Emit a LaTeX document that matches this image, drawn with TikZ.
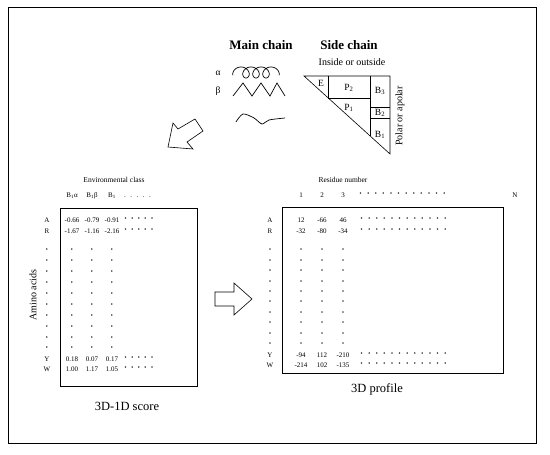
\documentclass[tikz,border=0pt]{standalone}
\usepackage{fontspec}
\setmainfont{Liberation Serif}
\usetikzlibrary{positioning}

\newcommand{\dotrun}[3]{\foreach \i in {1,...,#1}{#3\kern#2}}

\begin{document}
\begin{tikzpicture}[
    x=1pt, y=-1pt,
    heading/.style={font=\fontsize{13}{15}\selectfont\bfseries, inner sep=1pt},
    title/.style={font=\fontsize{12.5}{15}\selectfont, inner sep=1pt},
    caption/.style={font=\fontsize{10}{12}\selectfont, inner sep=1pt},
    tag/.style={font=\fontsize{9.5}{11}\selectfont, inner sep=0pt},
    smalltext/.style={font=\fontsize{7.5}{9}\selectfont, inner sep=1pt},
    cell/.style={font=\fontsize{7}{8}\selectfont, inner sep=0pt, text height=4.8pt, text depth=0pt},
    fill dot/.style={font=\fontsize{9}{9}\selectfont\bfseries, inner sep=0pt},
    panel/.style={draw=black, line width=0.8pt, anchor=north west, inner sep=0pt},
    hollow/.style={draw=black, line width=0.6pt, line join=miter},
    sector/.style={draw=black, line width=0.6pt},
    chain/.style={draw=black, line width=0.7pt}
]
    \useasboundingbox (0,0) rectangle (550,455);

    % --- Outer frame ---
    \draw[line width=1pt] (8,7) rectangle (536,443);

    % --- Main chain ---
    \node[heading] (mainchain) at (261,45) {Main chain};
    \node[tag] (alpha) at (218,73) {α};
    \node[tag] (beta) at (218,91) {β};
    \draw[chain] plot[domain=-30:1290, samples=220, smooth]
        ({238.5 + 10*\x/360 - 5.5*cos(\x)}, {72.5 - 5.5*sin(\x)});
    \draw[chain] (233,96) -- (243,83) -- (252,96) -- (261,83) -- (270,96) -- (277,83) -- (285,96);
    \draw[chain] plot[smooth] coordinates {(236,122) (243,114) (254,118) (262,124) (269,120) (285,118)};

    % --- Side chain triangle ---
    \node[heading] (sidechain) at (349,45) {Side chain};
    \node[caption] (inout) at (352,62) {Inside or outside};
    \draw[sector] (304,76) -- (390,76) -- (390,154) -- cycle;
    \draw[sector] (328,76) -- (328,98) -- (370,98);
    \draw[sector] (370,76) -- (370,136);
    \draw[sector] (370,107) -- (390,107);
    \draw[sector] (370,118) -- (390,118);
    \node[tag] (envE) at (321,83) {E};
    \node[tag] (envP2) at (349,88) {P\textsubscript{2}};
    \node[tag] (envP1) at (349,108) {P\textsubscript{1}};
    \node[tag] (envB3) at (380,91) {B\textsubscript{3}};
    \node[tag] (envB2) at (380,113) {B\textsubscript{2}};
    \node[tag] (envB1) at (380,135) {B\textsubscript{1}};
    \node[caption, rotate=90] (polar) at (400,116) {Polar or apolar};

    % --- Block arrows ---
    \draw[hollow] (168,147) -- (173,123) -- (178,129) -- (195,119) -- (203,131) -- (187,142) -- (193,149) -- cycle;
    \draw[hollow] (215,292) -- (234,292) -- (234,283) -- (252,299) -- (234,315) -- (234,306) -- (215,306) -- cycle;

    % --- 3D-1D score table ---
    \node[panel, minimum width=137pt, minimum height=178pt] (scorebox) at (60,208) {};
    \node[smalltext] (envclass) at (114,180) {Environmental class};
    \node[cell] (hB1a) at (72,195) {B\textsubscript{1}α};
    \node[cell] (hB1b) at (92,195) {B\textsubscript{1}β};
    \node[cell] (hB1) at (112,195) {B\textsubscript{1}};
    \node[cell, anchor=west] (htrail) at (124,195) {\dotrun{5}{4.5pt}{.}};
    \node[caption, rotate=90] (amino) at (33,295) {Amino acids};

    \foreach \lab/\yy/\a/\b/\c in {A/220/-0.66/-0.79/-0.91, R/231/-1.67/-1.16/-2.16,
                                   Y/359/0.18/0.07/0.17, W/369/1.00/1.17/1.05} {
        \node[cell] (s\lab) at (47,\yy) {\lab};
        \node[cell] (s\lab1) at (72,\yy) {\a};
        \node[cell] (s\lab2) at (92,\yy) {\b};
        \node[cell] (s\lab3) at (112,\yy) {\c};
        \node[fill dot, anchor=west] (s\lab t) at (124,\yy) {\dotrun{5}{3.6pt}{·}};
    }
    \foreach \k [evaluate=\k as \yy using 251+10.9*\k] in {0,...,9}
        \foreach \x [count=\c] in {47,72,92,112}
            \node[fill dot] (sd\k-\c) at (\x,\yy) {·};

    \node[title] (scorelabel) at (127,406) {3D-1D score};

    % --- 3D profile table ---
    \node[panel, minimum width=221pt, minimum height=166pt] (profilebox) at (282,207) {};
    \node[smalltext] (residue) at (343,180) {Residue number};
    \node[cell] (h1) at (301,195) {1};
    \node[cell] (h2) at (322,195) {2};
    \node[cell] (h3) at (343,195) {3};
    \node[fill dot, anchor=west] (htrailr) at (359,195) {\dotrun{12}{4.6pt}{·}};
    \node[cell] (hN) at (515,195) {N};

    \foreach \lab/\yy/\a/\b/\c in {A/220/12/-66/46, R/231/-32/-80/-34,
                                   Y/355/-94/112/-210, W/365/-214/102/-135} {
        \node[cell] (p\lab) at (270,\yy) {\lab};
        \node[cell] (p\lab1) at (301,\yy) {\a};
        \node[cell] (p\lab2) at (322,\yy) {\b};
        \node[cell] (p\lab3) at (343,\yy) {\c};
        \node[fill dot, anchor=west] (p\lab t) at (360,\yy) {\dotrun{12}{4.6pt}{·}};
    }
    \foreach \k [evaluate=\k as \yy using 251+10.4*\k] in {0,...,9}
        \foreach \x [count=\c] in {270,301,322,343}
            \node[fill dot] (pd\k-\c) at (\x,\yy) {·};

    \node[title] (profilelabel) at (377,389) {3D profile};

\end{tikzpicture}
\end{document}
